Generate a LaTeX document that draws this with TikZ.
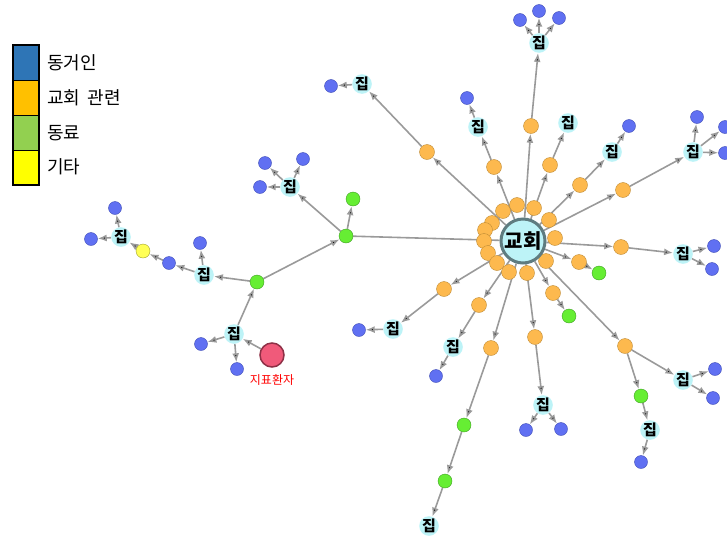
\documentclass[tikz,border=0pt]{standalone}
\usepackage{fontspec}
\setmainfont{Noto Sans CJK KR}
\usepackage{xcolor}
\usetikzlibrary{arrows.meta,backgrounds}

\definecolor{bluefill}{HTML}{6070F2}
\definecolor{blueline}{HTML}{3C4AB4}
\definecolor{orangefill}{HTML}{FDB94E}
\definecolor{orangeline}{HTML}{BE8A34}
\definecolor{greenfill}{HTML}{66EE33}
\definecolor{greenline}{HTML}{3E9E22}
\definecolor{yellowfill}{HTML}{FFFF55}
\definecolor{yellowline}{HTML}{A0A030}
\definecolor{homefill}{HTML}{BDF3F7}
\definecolor{hubline}{HTML}{5F7C80}
\definecolor{redfill}{HTML}{F05A7A}
\definecolor{redline}{HTML}{8E3046}
\definecolor{edgegray}{HTML}{9A9A9A}
\definecolor{keyblue}{HTML}{2E75B6}
\definecolor{keyorange}{HTML}{FFC000}
\definecolor{keygreen}{HTML}{92D050}
\definecolor{keyyellow}{HTML}{FFFF00}

\begin{document}
\begin{tikzpicture}[x=1pt,y=-1pt,
    bluenode/.style={circle, draw=blueline, fill=bluefill, thin, inner sep=0pt, minimum size=13pt},
    orangenode/.style={circle, draw=orangeline, fill=orangefill, thin, inner sep=0pt, minimum size=15pt},
    greennode/.style={circle, draw=greenline, fill=greenfill, thin, inner sep=0pt, minimum size=14pt},
    yellownode/.style={circle, draw=yellowline, fill=yellowfill, thin, inner sep=0pt, minimum size=14pt},
    homenode/.style={circle, fill=homefill, inner sep=0pt, minimum size=16pt, font=\fontsize{15}{15}\selectfont\bfseries},
    hubnode/.style={circle, draw=hubline, fill=homefill, line width=3pt, inner sep=0pt, minimum size=44pt, font=\fontsize{20}{20}\selectfont\bfseries},
    patientnode/.style={circle, draw=redline, fill=redfill, line width=1.5pt, inner sep=0pt, minimum size=24pt},
    legendtext/.style={anchor=west, inner sep=0pt, font=\fontsize{18}{18}\selectfont}]
        \useasboundingbox (0,0) rectangle (727,541);

        % legend
        \fill[keyblue] (13,45) rectangle (39,80);
        \fill[keyorange] (13,80) rectangle (39,115);
        \fill[keygreen] (13,115) rectangle (39,150);
        \fill[keyyellow] (13,150) rectangle (39,185);
        \draw[black, line width=1.5pt] (13,45) rectangle (39,185);
        \draw[black, line width=1pt] (13,80) -- (39,80) (13,115) -- (39,115) (13,150) -- (39,150);
        \node[legendtext] (L1) at (47,63) {동거인};
        \node[legendtext] (L2) at (47,98) {교회\hspace{0.4em}관련};
        \node[legendtext] (L3) at (47,133) {동료};
        \node[legendtext] (L4) at (47,167) {기타};

        % ring around the church
        \node[orangenode] (R1) at (492,223) {};
        \node[orangenode] (R2) at (485,230) {};
        \node[orangenode] (R3) at (484,241) {};
        \node[orangenode] (R4) at (488,253) {};
        \node[orangenode] (R5) at (497,263) {};
        \node[orangenode] (R6) at (509,272) {};
        \node[orangenode] (R7) at (527,273) {};
        \node[orangenode] (R8) at (546,261) {};
        \node[orangenode] (R9) at (555,238) {};
        \node[orangenode] (R10) at (549,220) {};
        \node[orangenode] (R11) at (534,208) {};
        \node[orangenode] (R12) at (517,205) {};
        \node[orangenode] (R13) at (503,211) {};
        \node[hubnode] (H) at (523,241) {교회};

        % church related
        \node[orangenode] (O1) at (427,152) {};
        \node[orangenode] (O2) at (494,167) {};
        \node[orangenode] (O3) at (531,126) {};
        \node[orangenode] (O4) at (550,165) {};
        \node[orangenode] (O5) at (580,185) {};
        \node[orangenode] (O6) at (623,190) {};
        \node[orangenode] (O7) at (621,247) {};
        \node[orangenode] (O8) at (579,262) {};
        \node[orangenode] (O9) at (553,293) {};
        \node[orangenode] (O10) at (625,346) {};
        \node[orangenode] (O11) at (535,337) {};
        \node[orangenode] (O12) at (491,348) {};
        \node[orangenode] (O13) at (479,305) {};
        \node[orangenode] (O14) at (444,289) {};

        % colleagues, other, patient
        \node[greennode] (G1) at (599,273) {};
        \node[greennode] (G2) at (569,316) {};
        \node[greennode] (G3) at (641,396) {};
        \node[greennode] (G4) at (464,425) {};
        \node[greennode] (G5) at (445,481) {};
        \node[greennode] (G6) at (257,282) {};
        \node[greennode] (G7) at (346,236) {};
        \node[greennode] (G8) at (353,199) {};
        \node[yellownode] (Y1) at (143,251) {};
        \node[patientnode] (P) at (272,355) {};
        \node[text=red, inner sep=0pt, font=\fontsize{12}{12}\selectfont] (PL) at (272,380) {지표환자};

        % homes
        \node[homenode] (J1) at (362,84) {집};
        \node[homenode] (J2) at (478,127) {집};
        \node[homenode] (J3) at (539,43) {집};
        \node[homenode] (J4) at (568,123) {집};
        \node[homenode] (J5) at (612,152) {집};
        \node[homenode] (J6) at (693,152) {집};
        \node[homenode] (J7) at (683,254) {집};
        \node[homenode] (J8) at (683,380) {집};
        \node[homenode] (J9) at (650,430) {집};
        \node[homenode] (J10) at (543,405) {집};
        \node[homenode] (J11) at (429,526) {집};
        \node[homenode] (J12) at (453,347) {집};
        \node[homenode] (J13) at (393,329) {집};
        \node[homenode] (J14) at (290,187) {집};
        \node[homenode] (J15) at (204,275) {집};
        \node[homenode] (J16) at (121,237) {집};
        \node[homenode] (J17) at (234,334) {집};

        % cohabitants
        \node[bluenode] (B1) at (331,86) {};
        \node[bluenode] (B2) at (467,98) {};
        \node[bluenode] (B3) at (520,20) {};
        \node[bluenode] (B4) at (539,11) {};
        \node[bluenode] (B5) at (559,18) {};
        \node[bluenode] (B6) at (629,126) {};
        \node[bluenode] (B7) at (697,117) {};
        \node[bluenode] (B8) at (725,127) {};
        \node[bluenode] (B9) at (725,153) {};
        \node[bluenode] (B10) at (714,246) {};
        \node[bluenode] (B11) at (712,269) {};
        \node[bluenode] (B12) at (715,369) {};
        \node[bluenode] (B13) at (713,398) {};
        \node[bluenode] (B14) at (641,462) {};
        \node[bluenode] (B15) at (526,430) {};
        \node[bluenode] (B16) at (561,429) {};
        \node[bluenode] (B17) at (436,376) {};
        \node[bluenode] (B18) at (359,330) {};
        \node[bluenode] (B19) at (265,163) {};
        \node[bluenode] (B20) at (303,159) {};
        \node[bluenode] (B21) at (260,187) {};
        \node[bluenode] (B22) at (200,243) {};
        \node[bluenode] (B23) at (169,263) {};
        \node[bluenode] (B24) at (115,208) {};
        \node[bluenode] (B25) at (91,239) {};
        \node[bluenode] (B26) at (201,344) {};
        \node[bluenode] (B27) at (237,369) {};

        \tikzset{arr/.style={-{Latex[length=9pt,width=7pt]}, draw=edgegray, line width=1.6pt}}

        \begin{scope}[on background layer]
        \draw[arr] (H) edge[] (O1) (O1) edge[] (J1) (J1) edge[] (B1);
        \draw[arr] (H) edge[] (O2) (O2) edge[] (J2) (J2) edge[] (B2);
        \draw[arr] (H) edge[] (O3) (O3) edge[] (J3) (J3) edge[] (B3) (J3) edge[] (B4) (J3) edge[] (B5);
        \draw[arr] (H) edge[] (O4) (O4) edge[] (J4);
        \draw[arr] (H) edge[] (O5) (O5) edge[] (J5) (J5) edge[] (B6);
        \draw[arr] (H) edge[] (O6) (O6) edge[] (J6) (J6) edge[] (B7) (J6) edge[] (B8) (J6) edge[] (B9);
        \draw[arr] (H) edge[] (O7) (O7) edge[] (J7) (J7) edge[] (B10) (J7) edge[] (B11);
        \draw[arr] (H) edge[] (O8) (O8) edge[] (G1);
        \draw[arr] (H) edge[] (O9) (O9) edge[] (G2);
        \draw[arr] (H) edge[] (O10) (O10) edge[] (J8) (J8) edge[] (B12) (J8) edge[] (B13);
        \draw[arr] (O10) edge[] (G3) (G3) edge[] (J9) (J9) edge[] (B14);
        \draw[arr] (H) edge[] (O11) (O11) edge[] (J10) (J10) edge[] (B15) (J10) edge[] (B16);
        \draw[arr] (H) edge[] (O12) (O12) edge[] (G4) (G4) edge[] (G5) (G5) edge[] (J11);
        \draw[arr] (H) edge[] (O13) (O13) edge[] (J12) (J12) edge[] (B17);
        \draw[arr] (H) edge[] (O14) (O14) edge[] (J13) (J13) edge[] (B18);
        \draw[arr, -] (G7) edge[] (H);
        \draw[arr] (G7) edge[] (G8) (G7) edge[] (J14) (J14) edge[] (B19) (J14) edge[] (B20) (J14) edge[] (B21);
        \draw[arr] (G6) edge[] (G7) (G6) edge[] (J15) (J15) edge[] (B22) (J15) edge[] (B23);
        \draw[arr] (B23) edge[] (Y1) (Y1) edge[] (J16) (J16) edge[] (B24) (J16) edge[] (B25);
        \draw[arr] (P) edge[] (J17) (J17) edge[] (G6) (J17) edge[] (B26) (J17) edge[] (B27);
        \end{scope}

    \end{tikzpicture}
\end{document}
